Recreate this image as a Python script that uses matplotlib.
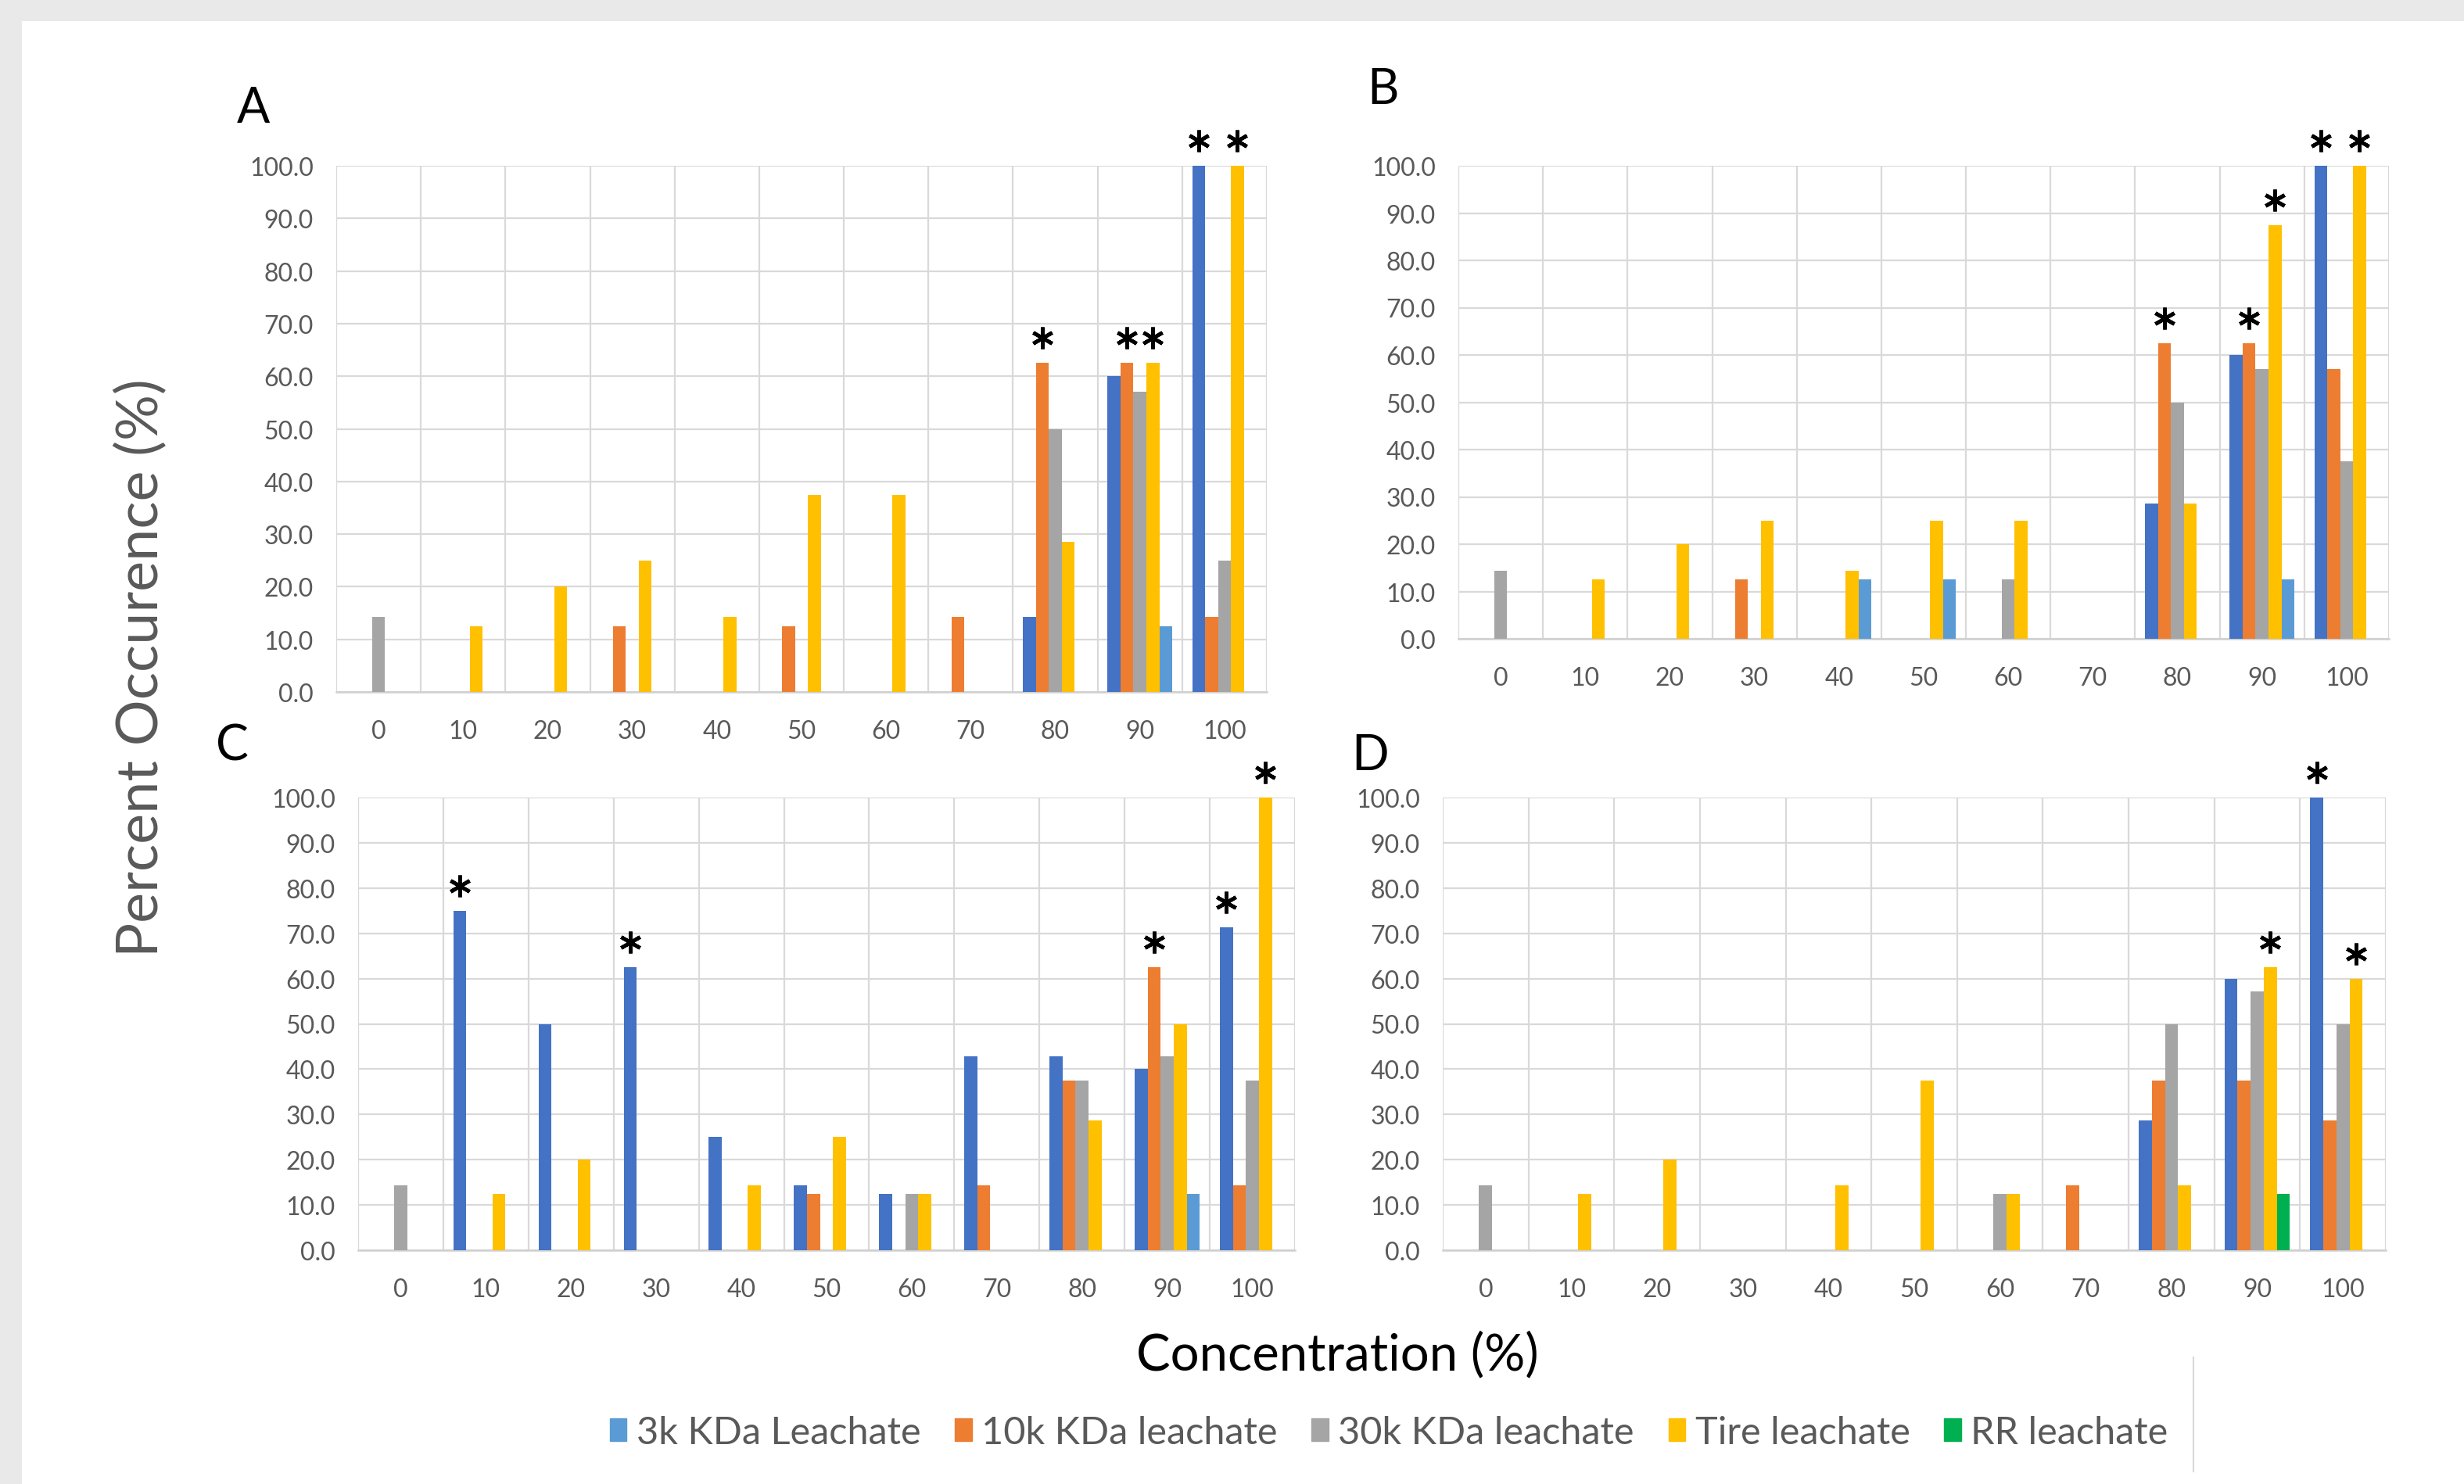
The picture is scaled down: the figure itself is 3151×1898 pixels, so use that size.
import numpy as np
import matplotlib
matplotlib.use("Agg")
import matplotlib.pyplot as plt
from matplotlib.patches import Patch, Rectangle
from matplotlib.lines import Line2D
from matplotlib.transforms import ScaledTranslation

plt.rcParams['font.family'] = ['Lato', 'DejaVu Sans']

# concentration categories
conc = ['0', '10', '20', '30', '40', '50', '60', '70', '80', '90', '100']

# panel A
A_blue = [0, 0, 0, 0, 0, 0, 0, 0, 14.3, 60, 100]
A_orange = [0, 0, 0, 12.5, 0, 12.5, 0, 14.3, 62.5, 62.5, 14.3]
A_gray = [14.3, 0, 0, 0, 0, 0, 0, 0, 50, 57.1, 25]
A_tire = [0, 12.5, 20, 25, 14.3, 37.5, 37.5, 0, 28.6, 62.5, 100]
A_fifth = [0, 0, 0, 0, 0, 0, 0, 0, 0, 12.5, 0]
A_stars = [(8, 1), (9, 1), (9, 3), (10, 0), (10, 3)]

# panel B
B_blue = [0, 0, 0, 0, 0, 0, 0, 0, 28.6, 60, 100]
B_orange = [0, 0, 0, 12.5, 0, 0, 0, 0, 62.5, 62.5, 57.1]
B_gray = [14.3, 0, 0, 0, 0, 0, 12.5, 0, 50, 57.1, 37.5]
B_tire = [0, 12.5, 20, 25, 14.3, 25, 25, 0, 28.6, 87.5, 100]
B_fifth = [0, 0, 0, 0, 12.5, 12.5, 0, 0, 0, 12.5, 0]
B_stars = [(8, 1), (9, 1), (9, 3), (10, 0), (10, 3)]

# panel C
C_blue = [0, 75, 50, 62.5, 25, 14.3, 12.5, 42.9, 42.9, 40, 71.4]
C_orange = [0, 0, 0, 0, 0, 12.5, 0, 14.3, 37.5, 62.5, 14.3]
C_gray = [14.3, 0, 0, 0, 0, 0, 12.5, 0, 37.5, 42.9, 37.5]
C_tire = [0, 12.5, 20, 0, 14.3, 25, 12.5, 0, 28.6, 50, 100]
C_fifth = [0, 0, 0, 0, 0, 0, 0, 0, 0, 12.5, 0]
C_stars = [(1, 0), (3, 0), (9, 1), (10, 0), (10, 3)]

# panel D
D_blue = [0, 0, 0, 0, 0, 0, 0, 0, 28.6, 60, 100]
D_orange = [0, 0, 0, 0, 0, 0, 0, 14.3, 37.5, 37.5, 28.6]
D_gray = [14.3, 0, 0, 0, 0, 0, 12.5, 0, 50, 57.1, 50]
D_tire = [0, 12.5, 20, 0, 14.3, 37.5, 12.5, 0, 14.3, 62.5, 60]
D_fifth = [0, 0, 0, 0, 0, 0, 0, 0, 0, 12.5, 0]
D_stars = [(9, 3), (10, 0), (10, 3)]

legend_labels = ['3k KDa Leachate', '10k KDa leachate', '30k KDa leachate',
                 'Tire leachate', 'RR leachate']

dark_blue = '#4472C4'
orange = '#ED7D31'
gray = '#A5A5A5'
yellow = '#FFC000'
light_blue = '#5B9BD5'
green = '#00B050'
txt_gray = '#595959'
grid_col = '#D9D9D9'

W, H = 3151, 1899
fig = plt.figure(figsize=(W / 100, H / 100), dpi=100)
fig.patch.set_facecolor('#E9E9E9')
fig.add_artist(Rectangle((28 / W, 0), 1, 1 - 28 / H, transform=fig.transFigure,
                         facecolor='white', edgecolor='none', zorder=-10))


def px_axes(l, r, t, b):
    return fig.add_axes([l / W, 1 - b / H, (r - l) / W, (b - t) / H])


def draw_panel(ax, series, fifth_color, stars):
    x = np.arange(len(conc))
    bw = 0.153
    colors = [dark_blue, orange, gray, yellow, fifth_color]
    for i, vals in enumerate(series):
        ax.bar(x + (i - 2) * bw, vals, width=bw, color=colors[i], zorder=3)
    star_off = ax.transData + ScaledTranslation(0, 0.32, fig.dpi_scale_trans)
    for c, s in stars:
        ax.plot(c + (s - 2) * bw, series[s][c], marker=(6, 2, 0), markersize=20,
                markeredgewidth=3.4, color='black', transform=star_off,
                clip_on=False, zorder=5)
    ax.set_xlim(-0.5, 10.5)
    ax.set_ylim(0, 100)
    ax.set_xticks(x)
    ax.set_xticklabels(conc)
    ax.set_xticks(np.arange(-0.5, 11, 1), minor=True)
    ax.set_yticks(np.arange(0, 101, 10))
    ax.set_yticklabels(['%.1f' % v for v in np.arange(0, 101, 10)])
    ax.grid(which='minor', axis='x', color=grid_col, linewidth=1.6)
    ax.grid(which='major', axis='y', color=grid_col, linewidth=1.6)
    ax.set_axisbelow(True)
    ax.tick_params(which='both', length=0)
    ax.tick_params(axis='x', pad=25, labelsize=23, labelcolor=txt_gray)
    ax.tick_params(axis='y', pad=21, labelsize=23, labelcolor=txt_gray)
    for sp in ['top', 'right', 'left']:
        ax.spines[sp].set_visible(False)
    ax.spines['bottom'].set_color('#D0D0D0')
    ax.spines['bottom'].set_linewidth(1.8)


axA = px_axes(430, 1620, 213, 886)
draw_panel(axA, [A_blue, A_orange, A_gray, A_tire, A_fifth], light_blue, A_stars)
axB = px_axes(1865, 3055, 213, 818)
draw_panel(axB, [B_blue, B_orange, B_gray, B_tire, B_fifth], light_blue, B_stars)
axC = px_axes(458, 1656, 1021, 1600)
draw_panel(axC, [C_blue, C_orange, C_gray, C_tire, C_fifth], light_blue, C_stars)
axD = px_axes(1845, 3051, 1021, 1600)
draw_panel(axD, [D_blue, D_orange, D_gray, D_tire, D_fifth], green, D_stars)

# panel letters
for lab, px, py in [('A', 324, 139), ('B', 1768, 115), ('C', 297, 955), ('D', 1752, 967)]:
    fig.text(px / W, 1 - py / H, lab, fontsize=45, ha='center', va='center', color='black')

fig.text(181 / W, 1 - 854 / H, 'Percent Occurence (%)', rotation=90, fontsize=53,
         ha='center', va='center', color=txt_gray)
fig.text(1710 / W, 1 - 1733 / H, 'Concentration (%)', fontsize=47,
         ha='center', va='center', color='black')

handles = [Patch(color=c) for c in [light_blue, orange, gray, yellow, green]]
fig.legend(handles, legend_labels, loc='center', bbox_to_anchor=(1776 / W, 1 - 1833 / H),
           ncol=5, frameon=False, fontsize=35, labelcolor=txt_gray,
           handlelength=0.45, handleheight=0.55, handletextpad=0.25, columnspacing=0.9)

fig.add_artist(Line2D([2805 / W, 2805 / W], [1 - 1737 / H, 1 - 1883 / H],
                      transform=fig.transFigure, color='#D9D9D9', linewidth=1.5))

fig.savefig('out.png', dpi=100)
